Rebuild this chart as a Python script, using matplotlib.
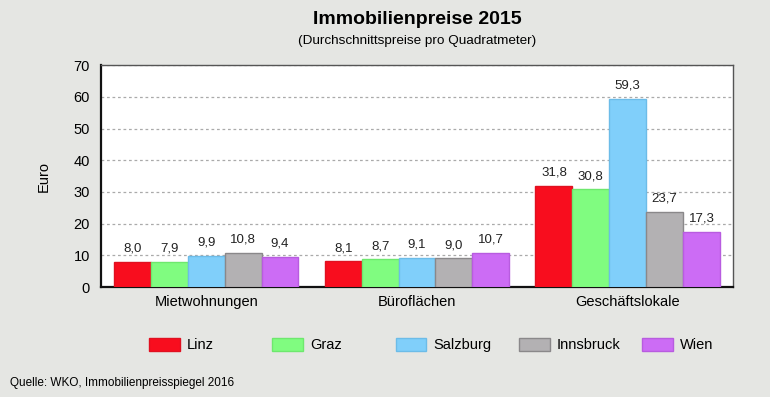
import matplotlib.pyplot as plt
import numpy as np
from matplotlib.patches import Patch

plt.rcParams['font.family'] = ['Liberation Sans', 'DejaVu Sans']

categories = ["Mietwohnungen", "Büroflächen", "Geschäftslokale"]
cities = ["Linz", "Graz", "Salzburg", "Innsbruck", "Wien"]
linz = [8.0, 8.1, 31.8]
graz = [7.9, 8.7, 30.8]
salzburg = [9.9, 9.1, 59.3]
innsbruck = [10.8, 9.0, 23.7]
wien = [9.4, 10.7, 17.3]
series = [linz, graz, salzburg, innsbruck, wien]

colors = ["#f80d1e", "#80fc80", "#80cffa", "#b3b1b3", "#cc6cf5"]
edges = ["#e01020", "#6ee86e", "#6cbce8", "#8a888a", "#b85ce0"]
BG = "#e5e6e3"

fig = plt.figure(figsize=(7.7, 3.97), dpi=100, facecolor=BG)
ax = fig.add_axes([0.131, 0.277, 0.821, 0.559])
ax.set_facecolor("white")

x = np.arange(len(categories))
w = 0.175
for i, (vals, c, ec) in enumerate(zip(series, colors, edges)):
    pos = x + (i - 2) * w
    bars = ax.bar(pos, vals, width=w, color=c, edgecolor=ec, linewidth=1.0, zorder=3)
    for b, v in zip(bars, vals):
        ax.text(b.get_x() + b.get_width() / 2, v + 2.3, f"{v:.1f}".replace(".", ","),
                ha="center", va="bottom", fontsize=9.5, color="#222222")

ax.set_ylim(0, 70)
ax.set_xlim(-0.5, 2.5)
ax.set_yticks(range(0, 71, 10))
ax.set_xticks(x)
ax.set_xticklabels(categories, fontsize=10.5)
ax.tick_params(axis="y", labelsize=10.5, length=0, pad=8)
ax.tick_params(axis="x", length=0, pad=6)
ax.yaxis.grid(True, linestyle=(0, (2.2, 2.2)), color="#aaaaaa", linewidth=0.9, zorder=0)
for s in ["left", "bottom"]:
    ax.spines[s].set_color("#111111")
    ax.spines[s].set_linewidth(1.6)
for s in ["top", "right"]:
    ax.spines[s].set_color("#555555")
    ax.spines[s].set_linewidth(1.0)
ax.set_ylabel("Euro", fontsize=10.5, labelpad=16)

xc = 0.131 + 0.821 / 2
fig.text(xc, 0.952, "Immobilienpreise 2015", ha="center", va="center",
         fontsize=14, fontweight="bold")
fig.text(xc, 0.896, "(Durchschnittspreise pro Quadratmeter)", ha="center", va="center",
         fontsize=9.7)

# one legend per city at fixed spacing, like the original
for i, (name, c, ec) in enumerate(zip(cities, colors, edges)):
    fig.legend([Patch(facecolor=c, edgecolor=ec)], [name], loc="center left",
               bbox_to_anchor=((149 + i * 123.3) / 770, 0.131), frameon=False,
               fontsize=10.5, handlelength=2.1, handleheight=1.05,
               handletextpad=0.5, borderpad=0, borderaxespad=0)

fig.text(0.013, 0.035, "Quelle: WKO, Immobilienpreisspiegel 2016", ha="left", va="center",
         fontsize=8.5)

fig.savefig("out.png", dpi=100, facecolor=BG)
